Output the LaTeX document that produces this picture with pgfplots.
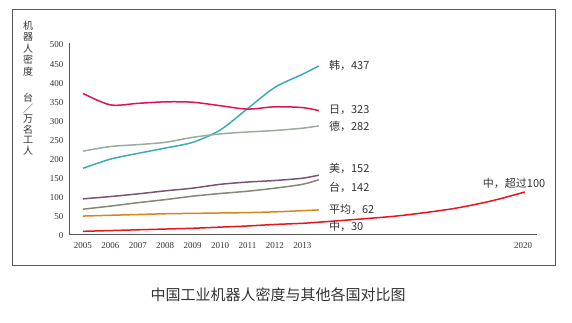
\documentclass[border=0pt]{standalone}
\usepackage{fontspec}
\setmainfont{Liberation Serif}
\newfontfamily\cjk{Noto Sans CJK SC}
\usepackage{pgfplots}
\pgfplotsset{compat=1.18}
\definecolor{txt}{HTML}{333333}
\definecolor{frame}{HTML}{555555}
\definecolor{cKR}{HTML}{3CAAB8}
\definecolor{cJP}{HTML}{E0124F}
\definecolor{cDE}{HTML}{9AAB9C}
\definecolor{cUS}{HTML}{7A5470}
\definecolor{cTW}{HTML}{868676}
\definecolor{cAV}{HTML}{D8861C}
\definecolor{cCN}{HTML}{E8141E}
\begin{document}
\begin{tikzpicture}
\path[use as bounding box] (0,0) rectangle (572pt,322pt);
\draw[frame, line width=0.8pt] (12.3pt,57pt) rectangle (555.7pt,312.7pt);
\node[txt, font=\cjk\fontsize{15}{18}\selectfont, inner sep=0] at (278pt,27pt) {中国工业机器人密度与其他各国对比图};
\node[txt, font=\cjk\fontsize{10}{11.5}\selectfont, align=center, inner sep=0] at (28pt,273.5pt) {机\\器\\人\\密\\度};
\node[txt, font=\cjk\fontsize{10}{10.5}\selectfont, align=center, inner sep=0] at (28pt,198pt) {台\\／\\万\\名\\工\\人};
\begin{axis}[
  at={(69pt,88pt)}, anchor=south west,
  scale only axis, width=468pt, height=191pt,
  xmin=-0.51, xmax=16.56, ymin=0, ymax=500,
  axis x line*=bottom, axis y line*=left,
  axis line style={draw=frame, line width=0.8pt},
  major tick length=0pt,
  ytick={0,50,...,500},
  xtick={0,1,2,3,4,5,6,7,8,16.05},
  xticklabels={2005,2006,2007,2008,2009,2010,2011,2012,2013,2020},
  /pgf/number format/assume math mode=true,
  ticklabel style={font=\fontsize{9}{10}\selectfont, text=txt},
  yticklabel style={inner sep=0pt, xshift=-5.5pt, yshift=-2pt},
  xticklabel style={inner sep=0pt, yshift=-8.5pt},
  clip=false,
  every axis plot/.append style={line width=1.5pt, smooth, tension=0.5, no marks},
]
\addplot[cKR] coordinates {(0,172) (1,196) (2,211) (3,225) (4,240) (5,272) (6,328) (7,384) (8,418) (8.6,440)};
\addplot[cJP] coordinates {(0,368) (1,338) (2,342) (3,346) (4,345) (5,336) (6,327) (7,333) (8,331) (8.6,323)};
\addplot[cDE] coordinates {(0,217) (1,229) (2,234) (3,240) (4,253) (5,262) (6,267) (7,271) (8,277) (8.6,283)};
\addplot[cUS] coordinates {(0,92) (1,98) (2,105) (3,113) (4,120) (5,130) (6,136) (7,140) (8,146) (8.6,154)};
\addplot[cTW] coordinates {(0,65) (1,73) (2,82) (3,90) (4,99) (5,106) (6,112) (7,120) (8,130) (8.6,142)};
\addplot[cAV] coordinates {(0,47) (1,49) (2,51) (3,53) (4,54) (5,55) (6,56) (7,58) (8,61) (8.6,63)};
\addplot[cCN] coordinates {(0,7) (1,9) (2,11) (3,13) (4,15) (5,18) (6,21) (7,25) (8,28) (8.6,31) (9.73,37) (11.56,48) (13.38,65) (14.48,80) (15.2,92) (16.12,110)};
\begin{scope}[every node/.style={txt, font=\cjk\fontsize{11}{13}\selectfont, anchor=west, inner sep=0}]
\node at (axis cs:8.97,440.6) {韩，437};
\node at (axis cs:8.97,324.6) {日，323};
\node at (axis cs:8.97,281) {德，282};
\node at (axis cs:8.97,171) {美，152};
\node at (axis cs:8.97,123) {台，142};
\node at (axis cs:8.97,65) {平均，62};
\node at (axis cs:8.97,19.1) {中，30};
\node at (axis cs:14.58,132.7) {中，超过100};
\end{scope}
\end{axis}
\end{tikzpicture}
\end{document}
